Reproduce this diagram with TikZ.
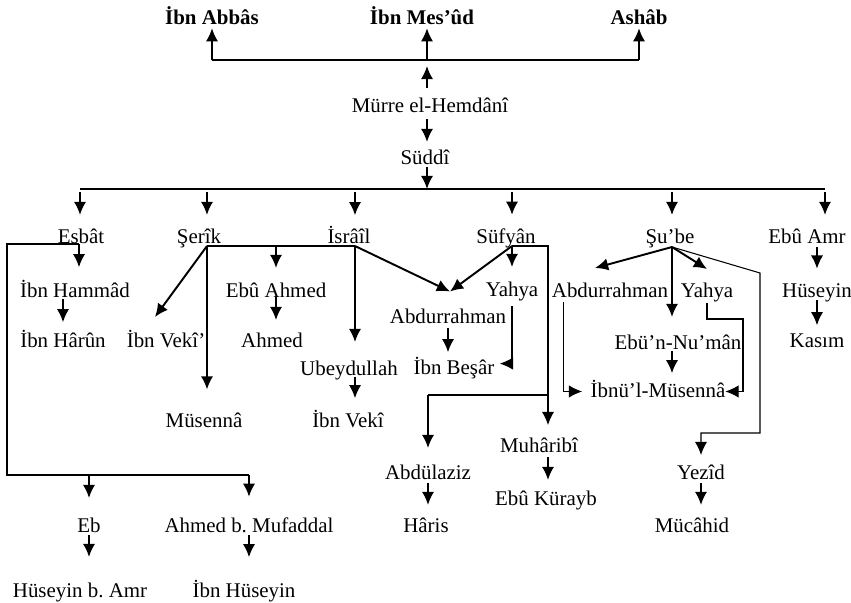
\documentclass[tikz,border=0pt]{standalone}
\usepackage{fontspec}
\setmainfont{Liberation Serif}
\usetikzlibrary{arrows.meta}

\tikzset{
    ravi/.style={inner sep=0pt, outer sep=0pt, anchor=base, font=\fontsize{11.9}{14}\selectfont},
    boldravi/.style={ravi, font=\fontsize{11.9}{14}\selectfont\bfseries},
    arr/.style={-{Latex[length=7.5pt,width=7pt]}, line width=1.1pt},
    thinarr/.style={-{Latex[length=7.5pt,width=7pt]}, line width=0.6pt},
    bar/.style={line width=1pt},
    thinbar/.style={line width=0.6pt}
}

\begin{document}
\begin{tikzpicture}
        \useasboundingbox (0,0) rectangle (17.02,-12.06);
        % names
        \node[boldravi] (abbas) at (4.24,-0.48) {İbn Abbâs};
        \node[boldravi] (mesud) at (8.44,-0.48) {İbn Mes’ûd};
        \node[boldravi] (ashab) at (12.78,-0.48) {Ashâb};
        \node[ravi] (murre) at (8.60,-2.24) {Mürre el-Hemdânî};
        \node[ravi] (suddi) at (8.50,-3.28) {Süddî};
        \node[ravi] (esbat) at (1.62,-4.86) {Esbât};
        \node[ravi] (serik) at (3.98,-4.86) {Şerîk};
        \node[ravi] (israil) at (6.98,-4.86) {İsrâîl};
        \node[ravi] (sufyan) at (10.12,-4.86) {Süfyân};
        \node[ravi] (sube) at (13.40,-4.86) {Şu’be};
        \node[ravi] (ebuamr) at (16.14,-4.86) {Ebû Amr};
        \node[ravi] (hammad) at (1.50,-5.94) {İbn Hammâd};
        \node[ravi] (ebuahmed) at (5.52,-5.94) {Ebû Ahmed};
        \node[ravi] (yahyaA) at (10.24,-5.92) {Yahya};
        \node[ravi] (abdurrahmanB) at (12.20,-5.94) {Abdurrahman};
        \node[ravi] (yahyaB) at (14.14,-5.94) {Yahya};
        \node[ravi] (huseyin) at (16.34,-5.94) {Hüseyin};
        \node[ravi] (abdurrahmanA) at (8.96,-6.46) {Abdurrahman};
        \node[ravi] (harun) at (1.26,-6.94) {İbn Hârûn};
        \node[ravi] (vekiA) at (3.32,-6.94) {İbn Vekî’};
        \node[ravi] (ahmed) at (5.44,-6.94) {Ahmed};
        \node[ravi] (numan) at (13.56,-6.98) {Ebü’n-Nu’mân};
        \node[ravi] (kasim) at (16.34,-6.94) {Kasım};
        \node[ravi] (ubeydullah) at (6.98,-7.50) {Ubeydullah};
        \node[ravi] (besar) at (9.08,-7.48) {İbn Beşâr};
        \node[ravi] (musennaB) at (13.16,-7.94) {İbnü’l-Müsennâ};
        \node[ravi] (musenna) at (4.08,-8.54) {Müsennâ};
        \node[ravi] (vekiB) at (6.96,-8.54) {İbn Vekî};
        \node[ravi] (muharibi) at (10.78,-9.04) {Muhâribî};
        \node[ravi] (abdulaziz) at (8.56,-9.58) {Abdülaziz};
        \node[ravi] (yezid) at (14.02,-9.58) {Yezîd};
        \node[ravi] (kurayb) at (10.92,-10.10) {Ebû Kürayb};
        \node[ravi] (eb) at (1.78,-10.64) {Eb};
        \node[ravi] (mufaddal) at (4.98,-10.64) {Ahmed b.\ Mufaddal};
        \node[ravi] (haris) at (8.52,-10.64) {Hâris};
        \node[ravi] (mucahid) at (13.84,-10.64) {Mücâhid};
        \node[ravi] (huseyinamr) at (1.60,-11.94) {Hüseyin b.\ Amr};
        \node[ravi] (ibnhuseyin) at (4.88,-11.94) {İbn Hüseyin};
        % branch points
        \coordinate (jt) at (8.54,-1.20);
        \coordinate (jb) at (8.54,-3.78);
        \coordinate (jl) at (1.60,-3.78);
        \coordinate (jr) at (16.50,-3.78);
        \coordinate (pEsbat) at (1.58,-4.88);
        \coordinate (pSerik) at (4.14,-4.92);
        \coordinate (pIsrail) at (7.10,-4.92);
        \coordinate (pSufyan) at (10.24,-4.92);
        \coordinate (pSube) at (13.44,-4.94);
        \coordinate (lb) at (0.14,-9.50);
        \coordinate (sBr) at (10.96,-7.90);
        \coordinate (sbR) at (15.20,-5.46);
        \coordinate (sbB) at (15.20,-8.66);
        \coordinate (yB) at (14.86,-6.38);
        \coordinate (tSerik) at (3.10,-6.34);
        \coordinate (abdA) at (9.00,-5.83);
        \coordinate (tSubeA) at (11.90,-5.36);
        \coordinate (tSubeY) at (14.14,-5.38);
        % top
        \draw[bar] (abbas.south |- jt) -- (ashab.south |- jt);
        \draw[arr, shorten >=0.08cm] (abbas.south |- jt) -- (abbas.south);
        \draw[arr, shorten >=0.08cm] (jt) -- (jt |- mesud.south);
        \draw[arr, shorten >=0.08cm] (ashab.south |- jt) -- (ashab.south);
        \draw[arr, shorten <=0.19cm, shorten >=0.12cm] (jt |- murre.north) -- (jt);
        \draw[arr, shorten <=0.14cm, shorten >=0.15cm] (jt |- murre.base) -- (jt |- suddi.north);
        \draw[arr, shorten <=0.06cm] (jb |- suddi.base) -- (jb);
        \draw[bar] (jl) -- (jr);
        \draw[arr, shorten <=0.06cm, shorten >=0.27cm] (jl) -- (jl |- esbat.north);
        \draw[arr, shorten <=0.06cm, shorten >=0.27cm] (pSerik |- jb) -- (pSerik |- serik.north);
        \draw[arr, shorten <=0.06cm, shorten >=0.21cm] (pIsrail |- jb) -- (pIsrail |- israil.north);
        \draw[arr, shorten <=0.06cm, shorten >=0.27cm] (pSufyan |- jb) -- (pSufyan |- sufyan.north);
        \draw[arr, shorten <=0.06cm, shorten >=0.27cm] (pSube |- jb) -- (pSube |- sube.north);
        \draw[arr, shorten <=0.06cm, shorten >=0.27cm] (jr) -- (jr |- ebuamr.north);
        % Esbat
        \draw[bar] (pEsbat) -| (lb) -- (lb -| mufaddal.north);
        \draw[arr, shorten >=0.25cm] (pEsbat) -- (pEsbat |- hammad.north);
        \draw[arr, shorten <=0.04cm, shorten >=0.15cm] (harun.north |- hammad.base) -- (harun.north);
        \draw[arr, shorten >=0.39cm] (lb -| eb.north) -- (eb.north);
        \draw[arr, shorten >=0.41cm] (lb -| mufaddal.north) -- (mufaddal.north);
        \draw[arr, shorten <=0.06cm, shorten >=0.51cm] (eb.base) -- (eb.base |- huseyinamr.north);
        \draw[arr, shorten <=0.06cm, shorten >=0.45cm] (mufaddal.base) -- (mufaddal.base |- ibnhuseyin.north);
        % Serik
        \draw[arr] (pSerik) -- (tSerik);
        \draw[arr, shorten >=0.46cm] (pSerik) -- (pSerik |- musenna.north);
        \draw[bar] (pSerik) -- (pIsrail);
        \draw[arr, shorten >=0.29cm] (pSerik -| ebuahmed.north) -- (ebuahmed.north);
        \draw[arr, shorten >=0.25cm] (ebuahmed.base) -- (ebuahmed.base |- ahmed.north);
        % Israil
        \draw[arr, shorten >=0.37cm] (pIsrail) -- (pIsrail |- ubeydullah.north);
        \draw[arr] (pIsrail) -- (abdA);
        \draw[arr, shorten <=0.04cm, shorten >=0.23cm] (pIsrail |- ubeydullah.base) -- (pIsrail |- vekiB.north);
        % Sufyan
        \draw[arr] (pSufyan) -- (abdA);
        \draw[arr, shorten >=0.29cm] (pSufyan) -- (pSufyan |- yahyaA.north);
        \draw[arr, shorten <=0.10cm, shorten >=0.09cm] (abdurrahmanA.base) -- (abdurrahmanA.base |- besar.north);
        \draw[thinarr, shorten <=0.20cm, shorten >=0.11cm] (yahyaA.base) |- ([yshift=0.08cm]besar.east);
        \draw[thinbar] (pSufyan) -| (sBr);
        \draw[thinarr, shorten >=0.25cm] (sBr) -- (sBr |- muharibi.north);
        \draw[thinbar] (sBr) -- (sBr -| abdulaziz.north);
        \draw[arr, shorten >=0.33cm] (sBr -| abdulaziz.north) -- (abdulaziz.north);
        \draw[arr, shorten <=0.10cm, shorten >=0.21cm] (sBr |- muharibi.base) -- (sBr |- kurayb.north);
        \draw[arr, shorten <=0.08cm, shorten >=0.25cm] (abdulaziz.base) -- (abdulaziz.base |- haris.north);
        % Sube
        \draw[arr] (pSube) -- (tSubeA);
        \draw[arr, shorten >=0.35cm] (pSube) -- (pSube |- numan.north);
        \draw[arr] (pSube) -- (tSubeY);
        \draw[thinarr, shorten >=0.19cm] (pSube) -- (sbR) -- (sbB) -| (yezid.north);
        \draw[thinarr, shorten <=0.10cm, shorten >=0.17cm] ([xshift=0.24cm]abdurrahmanB.south west) |- ([yshift=-0.06cm]musennaB.west);
        \draw[thinarr, shorten <=0.12cm] (yahyaB.base) |- (yB) |- ([yshift=-0.06cm]musennaB.east);
        \draw[arr, shorten <=0.04cm, shorten >=0.13cm] (pSube |- numan.base) -- (pSube |- musennaB.north);
        \draw[arr, shorten <=0.08cm, shorten >=0.25cm] (yezid.base) -- (yezid.base |- mucahid.north);
        % Ebu Amr
        \draw[arr, shorten <=0.08cm, shorten >=0.29cm] (huseyin.north |- ebuamr.base) -- (huseyin.north);
        \draw[arr, shorten <=0.06cm, shorten >=0.16cm] (huseyin.base) -- (huseyin.base |- kasim.north);
    \end{tikzpicture}
\end{document}
